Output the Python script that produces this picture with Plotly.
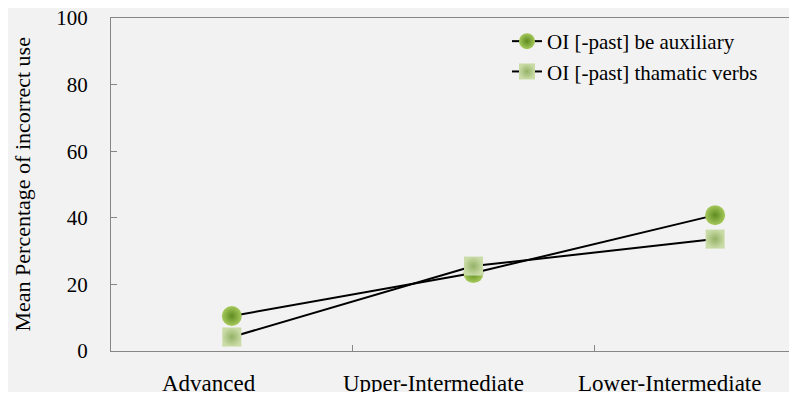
import plotly.graph_objects as go

categories = ["Advanced", "Upper-Intermediate", "Lower-Intermediate"]
be_aux = [10.5, 23.4, 40.8]
thematic = [4.2, 25.5, 33.6]
series_names = ["OI [-past] be auxiliary", "OI [-past] thamatic verbs"]
y_ticks = [0, 20, 40, 60, 80, 100]

# horizontal offsets (px) of the category labels as placed in the original
label_xshift = [-23, -40, -46]

FONT = "Liberation Serif"
AXC = "#868686"
OFF = 8  # page body margin

fig = go.Figure()
fig.add_trace(go.Scatter(
    x=categories, y=be_aux, name=series_names[0], mode="lines+markers",
    line=dict(color="black", width=2),
    marker=dict(symbol="circle", size=20, color="#a6c95c",
                gradient=dict(type="radial", color="#5e8c20"),
                line=dict(width=0)),
))
fig.add_trace(go.Scatter(
    x=categories, y=thematic, name=series_names[1], mode="lines+markers",
    line=dict(color="black", width=2),
    marker=dict(symbol="square", size=19, color="#c9dba6",
                gradient=dict(type="radial", color="#94b267"),
                line=dict(width=0)),
))

W, H = 797 - OFF, 392 - OFF
L, R, T, B = 111 - OFF, 0, 18 - OFF, 392 - 351
pw, ph = W - L - R, H - T - B

def px_x(p):
    return (p - OFF - L) / pw

def px_y(p):
    return (H - B - (p - OFF)) / ph

fig.add_annotation(text="Mean Percentage of incorrect use", xref="paper", yref="paper",
                   x=px_x(22), y=0.5, xanchor="center", yanchor="middle",
                   textangle=-90, showarrow=False,
                   font=dict(family=FONT, size=22, color="black"))

for cat, dx in zip(categories, label_xshift):
    fig.add_annotation(text=cat, x=cat, xref="x", y=0, yref="paper",
                       xanchor="center", yanchor="top", xshift=dx, yshift=-18,
                       showarrow=False, font=dict(family=FONT, size=23, color="black"))

fig.update_layout(
    width=W, height=H,
    margin=dict(l=L, r=R, t=T, b=B, autoexpand=False),
    paper_bgcolor="#f2f2f2", plot_bgcolor="#f2f2f2",
    font=dict(family=FONT, color="black", size=21),
    showlegend=True,
    legend=dict(x=px_x(507), y=px_y(21), xanchor="left", yanchor="top",
                bgcolor="rgba(0,0,0,0)", font=dict(family=FONT, size=21, color="black"),
                tracegroupgap=0),
    xaxis=dict(type="category", categoryorder="array", categoryarray=categories,
               range=[-0.5, 2.5 - 39 / 242], showline=True, linecolor=AXC, linewidth=1,
               mirror=True, ticks="inside", tickson="boundaries", ticklen=6,
               tickcolor=AXC, showgrid=False, zeroline=False, showticklabels=False),
    yaxis=dict(range=[0, 100], tickvals=y_ticks, showline=True, linecolor=AXC,
               linewidth=1, ticks="inside", ticklen=6, tickcolor=AXC,
               showgrid=False, zeroline=False,
               tickfont=dict(family=FONT, size=21, color="black"), ticklabelstandoff=18,
               ticklabeloverflow="allow"),
)

fig.write_html("out.html")
